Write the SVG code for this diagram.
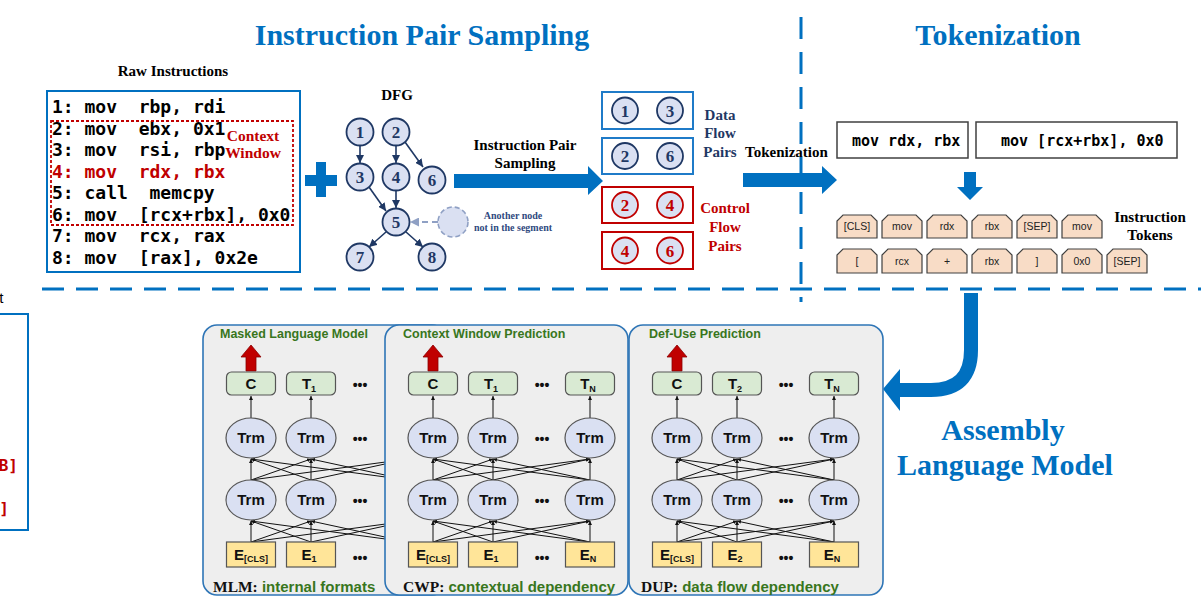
<svg xmlns="http://www.w3.org/2000/svg" width="1201" height="601" viewBox="0 0 1201 601">
<style>
.ttl{font-family:"Liberation Serif","Times New Roman",serif;font-weight:bold;fill:#0070C0;text-anchor:middle}
.sb{font-family:"Liberation Serif","Times New Roman",serif;font-weight:bold}
.code{font-family:"DejaVu Sans Mono","Liberation Mono",monospace;font-weight:bold;font-size:18px;fill:#000}
.tok{font-family:"DejaVu Sans Mono","Liberation Mono",monospace;font-weight:bold;font-size:15px;fill:#000}
.dn{fill:#DAE0F2;stroke:#1F3864;stroke-width:1.8}
.dnt{font-family:"Liberation Serif","Times New Roman",serif;font-weight:bold;font-size:17px;fill:#1F3864;text-anchor:middle}
.rn{fill:#DAE0F2;stroke:#C00000;stroke-width:1.8}
.rnt{font-family:"Liberation Serif","Times New Roman",serif;font-weight:bold;font-size:17px;fill:#C00000;text-anchor:middle}
.de{stroke:#1F3864;stroke-width:1.6;fill:none;marker-end:url(#dh)}
.tk{fill:#F8DCC6;stroke:#404040;stroke-width:1.2}
.tkt{font-family:"Liberation Sans",Arial,sans-serif;font-size:10.5px;fill:#222;text-anchor:middle}
.panel{fill:#EEEEEE;stroke:#2E75B6;stroke-width:1.6}
.ptl{font-family:"Liberation Sans",Arial,sans-serif;font-weight:bold;font-size:12.5px;fill:#38761D}
.pbl{font-family:"Liberation Sans",Arial,sans-serif;font-weight:bold;font-size:15px;fill:#38761D}
.cb{fill:#D9EAD3;stroke:#555;stroke-width:1.2}
.eb{fill:#FFE599;stroke:#555;stroke-width:1.2}
.tr{fill:#DAE0F2;stroke:#555;stroke-width:1.2}
.nt{font-family:"Liberation Sans",Arial,sans-serif;font-weight:bold;font-size:15px;fill:#111;text-anchor:middle}
.dots{font-family:"Liberation Sans",Arial,sans-serif;font-weight:bold;font-size:14px;fill:#111;text-anchor:middle}
.ln{stroke:#111;stroke-width:1;marker-end:url(#ah)}
.ra{fill:#C00000;stroke:#8B0000;stroke-width:0.8}
.blue{fill:#0070C0}
</style>
<defs>
<marker id="ah" viewBox="0 0 6 6" refX="6" refY="3" markerWidth="4" markerHeight="4" markerUnits="userSpaceOnUse" orient="auto"><path d="M0,0 L6,3 L0,6 z" fill="#111"/></marker>
<marker id="dh" viewBox="0 0 8 8" refX="8" refY="4" markerWidth="8" markerHeight="8" markerUnits="userSpaceOnUse" orient="auto"><path d="M0,0 L8,4 L0,8 z" fill="#1F3864"/></marker>
<marker id="gh" viewBox="0 0 8 8" refX="8" refY="4" markerWidth="9" markerHeight="9" markerUnits="userSpaceOnUse" orient="auto"><path d="M0,0 L8,4 L0,8 z" fill="#8FA0C4"/></marker>
</defs>
<rect width="1201" height="601" fill="#fff"/>

<!-- section dividers -->
<g id="dividers" stroke="#0070C0" stroke-width="3" fill="none">
<line x1="42" y1="289" x2="1201" y2="289" stroke-dasharray="22 12"/>
<line x1="801" y1="17" x2="801" y2="302" stroke-dasharray="22 13"/>
</g>

<!-- titles -->
<text class="ttl" x="422" y="45" font-size="30">Instruction Pair Sampling</text>
<text class="ttl" x="998" y="45" font-size="30">Tokenization</text>
<text class="ttl" x="1003" y="440" font-size="30">Assembly</text>
<text class="ttl" x="1005" y="475" font-size="30">Language Model</text>

<!-- partial left element -->
<g id="left-partial">
<text x="3.5" y="303" font-family="Liberation Sans, Arial, sans-serif" font-size="15" text-anchor="end" fill="#000">t</text>
<path d="M-2 314 H28 V530 H-2" fill="none" stroke="#0070C0" stroke-width="2"/>
<text x="18" y="471" class="code" style="fill:#C00000;font-size:16px" text-anchor="end">B]</text>
<text x="9" y="514" class="code" style="fill:#C00000;font-size:16px" text-anchor="end">]</text>
</g>

<!-- raw instructions -->
<g id="raw-instructions">
<text class="sb" x="173" y="76" font-size="15" text-anchor="middle">Raw Instructions</text>
<rect x="47" y="91" width="253" height="181" fill="#fff" stroke="#0070C0" stroke-width="2"/>
<text class="code" x="52" y="113" xml:space="preserve">1: mov  rbp, rdi</text>
<text class="code" x="52" y="134.5" xml:space="preserve">2: mov  ebx, 0x1</text>
<text class="code" x="52" y="156" xml:space="preserve">3: mov  rsi, rbp</text>
<text class="code" x="52" y="177.5" xml:space="preserve" style="fill:#C00000">4: mov  rdx, rbx</text>
<text class="code" x="52" y="199" xml:space="preserve">5: call  memcpy</text>
<text class="code" x="52" y="220.5" xml:space="preserve">6: mov  [rcx+rbx], 0x0</text>
<text class="code" x="52" y="242" xml:space="preserve">7: mov  rcx, rax</text>
<text class="code" x="52" y="263.5" xml:space="preserve">8: mov  [rax], 0x2e</text>
<rect x="51" y="121" width="242" height="104" fill="none" stroke="#C00000" stroke-width="1.8" stroke-dasharray="3 2"/>
<text class="sb" x="253" y="141" font-size="15.5" fill="#C00000" text-anchor="middle">Context</text>
<text class="sb" x="253" y="158" font-size="15.5" fill="#C00000" text-anchor="middle">Window</text>
</g>

<!-- plus -->
<path id="plus" class="blue" d="M316 162 H326 V175 H337 V186 H326 V197 H316 V186 H305 V175 H316 Z"/>

<!-- DFG -->
<g id="dfg">
<text class="sb" x="397" y="100" font-size="15" text-anchor="middle">DFG</text>
<g class="connectors">
<line class="de" x1="360" y1="146" x2="360" y2="163"/>
<line class="de" x1="396" y1="146" x2="396" y2="163"/>
<line class="de" x1="405" y1="142" x2="423" y2="167"/>
<line class="de" x1="369" y1="187" x2="386" y2="211"/>
<line class="de" x1="396" y1="191" x2="396" y2="208"/>
<line class="de" x1="386" y1="232" x2="369" y2="247"/>
<line class="de" x1="406" y1="232" x2="423" y2="247"/>
<line x1="438" y1="222" x2="410" y2="222" stroke="#8FA0C4" stroke-width="1.8" stroke-dasharray="6 4" marker-end="url(#gh)"/>
</g>
<g id="n1"><circle class="dn" cx="360" cy="132" r="13.5"/><text class="dnt" x="360" y="138">1</text></g>
<g id="n2"><circle class="dn" cx="396" cy="132" r="13.5"/><text class="dnt" x="396" y="138">2</text></g>
<g id="n3"><circle class="dn" cx="360" cy="177" r="13.5"/><text class="dnt" x="360" y="183">3</text></g>
<g id="n4"><circle class="dn" cx="396" cy="177" r="13.5"/><text class="dnt" x="396" y="183">4</text></g>
<g id="n6"><circle class="dn" cx="432" cy="180" r="13.5"/><text class="dnt" x="432" y="186">6</text></g>
<g id="n5"><circle class="dn" cx="396" cy="222" r="13.5"/><text class="dnt" x="396" y="228">5</text></g>
<g id="n7"><circle class="dn" cx="360" cy="257" r="13.5"/><text class="dnt" x="360" y="263">7</text></g>
<g id="n8"><circle class="dn" cx="432" cy="257" r="13.5"/><text class="dnt" x="432" y="263">8</text></g>
<g id="nx"><circle cx="453" cy="222" r="15" fill="#DAE0F2" stroke="#8FA0C4" stroke-width="1.6" stroke-dasharray="5 3"/>
<text class="sb" x="513" y="219" font-size="10" fill="#2F4A80" text-anchor="middle">Another node</text>
<text class="sb" x="513" y="231" font-size="10" fill="#2F4A80" text-anchor="middle">not in the segment</text></g>
</g>

<!-- instruction pair sampling arrow -->
<g id="arrow-sampling">
<text class="sb" x="525" y="150" font-size="15" text-anchor="middle">Instruction Pair</text>
<text class="sb" x="525" y="168" font-size="15" text-anchor="middle">Sampling</text>
<path class="blue" d="M454 174 H588 V166 L603 181 L588 195 V188 H454 Z"/>
</g>

<!-- pairs -->
<g id="pairs">
<rect x="602" y="92" width="91" height="37" fill="#fff" stroke="#1F7BC8" stroke-width="2"/>
<rect x="602" y="138" width="91" height="36" fill="#fff" stroke="#1F7BC8" stroke-width="2"/>
<rect x="602" y="187" width="91" height="36" fill="#fff" stroke="#C00000" stroke-width="2"/>
<rect x="602" y="232" width="91" height="37" fill="#fff" stroke="#C00000" stroke-width="2"/>
<circle class="dn" cx="625" cy="110.5" r="13"/><text class="dnt" x="625" y="116.5">1</text>
<circle class="dn" cx="670" cy="110.5" r="13"/><text class="dnt" x="670" y="116.5">3</text>
<circle class="dn" cx="625" cy="156" r="13"/><text class="dnt" x="625" y="162">2</text>
<circle class="dn" cx="670" cy="156" r="13"/><text class="dnt" x="670" y="162">6</text>
<circle class="rn" cx="625" cy="205" r="13"/><text class="rnt" x="625" y="211">2</text>
<circle class="rn" cx="670" cy="205" r="13"/><text class="rnt" x="670" y="211">4</text>
<circle class="rn" cx="625" cy="250.5" r="13"/><text class="rnt" x="625" y="256.5">4</text>
<circle class="rn" cx="670" cy="250.5" r="13"/><text class="rnt" x="670" y="256.5">6</text>
<g class="sb" font-size="15" fill="#1F3864" text-anchor="middle">
<text x="720" y="120">Data</text><text x="720" y="138">Flow</text><text x="720" y="157">Pairs</text></g>
<g class="sb" font-size="15" fill="#C00000" text-anchor="middle">
<text x="725" y="213">Control</text><text x="725" y="232">Flow</text><text x="725" y="251">Pairs</text></g>
</g>

<!-- tokenization arrow -->
<g id="arrow-tokenization">
<text class="sb" x="745" y="157" font-size="15">Tokenization</text>
<path class="blue" d="M743 173 H822 V166 L837 180 L822 194 V187 H743 Z"/>
</g>

<!-- instructions -->
<g id="instr1"><rect x="837" y="122" width="131" height="36" fill="#fff" stroke="#404040" stroke-width="1.5"/><text class="tok" x="852" y="146">mov rdx, rbx</text></g>
<g id="instr2"><rect x="976" y="122" width="201" height="36" fill="#fff" stroke="#404040" stroke-width="1.5"/><text class="tok" x="1001" y="146">mov [rcx+rbx], 0x0</text></g>
<path id="arrow-down" class="blue" d="M964 172 H976 V187 H983 L970 200 L957 187 H964 Z"/>

<!-- tokens -->
<g id="tokens">
<g transform="translate(837,215)"><path class="tk" d="M0 23 V6 L6 0 H34 L40 6 V23 Z"/><text class="tkt" x="20" y="15">[CLS]</text></g>
<g transform="translate(882,215)"><path class="tk" d="M0 23 V6 L6 0 H34 L40 6 V23 Z"/><text class="tkt" x="20" y="15">mov</text></g>
<g transform="translate(927,215)"><path class="tk" d="M0 23 V6 L6 0 H34 L40 6 V23 Z"/><text class="tkt" x="20" y="15">rdx</text></g>
<g transform="translate(972,215)"><path class="tk" d="M0 23 V6 L6 0 H34 L40 6 V23 Z"/><text class="tkt" x="20" y="15">rbx</text></g>
<g transform="translate(1017,215)"><path class="tk" d="M0 23 V6 L6 0 H34 L40 6 V23 Z"/><text class="tkt" x="20" y="15">[SEP]</text></g>
<g transform="translate(1062,215)"><path class="tk" d="M0 23 V6 L6 0 H34 L40 6 V23 Z"/><text class="tkt" x="20" y="15">mov</text></g>
<g transform="translate(837,249)"><path class="tk" d="M0 24 V6 L6 0 H34 L40 6 V24 Z"/><text class="tkt" x="20" y="16">[</text></g>
<g transform="translate(882,249)"><path class="tk" d="M0 24 V6 L6 0 H34 L40 6 V24 Z"/><text class="tkt" x="20" y="16">rcx</text></g>
<g transform="translate(927,249)"><path class="tk" d="M0 24 V6 L6 0 H34 L40 6 V24 Z"/><text class="tkt" x="20" y="16">+</text></g>
<g transform="translate(972,249)"><path class="tk" d="M0 24 V6 L6 0 H34 L40 6 V24 Z"/><text class="tkt" x="20" y="16">rbx</text></g>
<g transform="translate(1017,249)"><path class="tk" d="M0 24 V6 L6 0 H34 L40 6 V24 Z"/><text class="tkt" x="20" y="16">]</text></g>
<g transform="translate(1062,249)"><path class="tk" d="M0 24 V6 L6 0 H34 L40 6 V24 Z"/><text class="tkt" x="20" y="16">0x0</text></g>
<g transform="translate(1107,249)"><path class="tk" d="M0 24 V6 L6 0 H34 L40 6 V24 Z"/><text class="tkt" x="20" y="16">[SEP]</text></g>
<text class="sb" x="1150" y="222" font-size="15" text-anchor="middle">Instruction</text>
<text class="sb" x="1150" y="240" font-size="15" text-anchor="middle">Tokens</text>
</g>

<!-- curved arrow to model -->
<g id="arrow-model">
<path d="M971 293 V350 Q971 390 931 390 H899" fill="none" stroke="#0070C0" stroke-width="14"/>
<path class="blue" d="M900 369 L883 389 L900 411 Z"/>
</g>

<!-- MLM panel -->
<g id="panel-mlm" transform="translate(203,0)">
<rect class="panel" x="0" y="325" width="243" height="270" rx="14"/>
<text class="ptl" x="17" y="338">Masked Language Model</text>
<g class="connectors">
<line class="ln" x1="48" y1="542" x2="48" y2="521"/><line class="ln" x1="48" y1="542" x2="108" y2="521"/><line class="ln" x1="48" y1="542" x2="205" y2="521"/>
<line class="ln" x1="108" y1="542" x2="48" y2="521"/><line class="ln" x1="108" y1="542" x2="108" y2="521"/><line class="ln" x1="108" y1="542" x2="205" y2="521"/>
<line class="ln" x1="205" y1="542" x2="48" y2="521"/><line class="ln" x1="205" y1="542" x2="108" y2="521"/>
<line class="ln" x1="48" y1="480" x2="48" y2="459"/><line class="ln" x1="48" y1="480" x2="108" y2="459"/><line class="ln" x1="48" y1="480" x2="205" y2="459"/>
<line class="ln" x1="108" y1="480" x2="48" y2="459"/><line class="ln" x1="108" y1="480" x2="108" y2="459"/><line class="ln" x1="108" y1="480" x2="205" y2="459"/>
<line class="ln" x1="205" y1="480" x2="48" y2="459"/><line class="ln" x1="205" y1="480" x2="108" y2="459"/>
<line class="ln" x1="48" y1="418" x2="48" y2="396"/><line class="ln" x1="108" y1="418" x2="108" y2="396"/>
</g>
<path class="ra" d="M48 345 L58 357 H53 V371 H43 V357 H38 Z"/>
<rect class="cb" x="23.5" y="372" width="49" height="23" rx="5"/><text class="nt" x="48" y="389">C</text>
<rect class="cb" x="83.5" y="372" width="49" height="23" rx="5"/><text class="nt" x="106" y="389">T<tspan font-size="9" dy="3">1</tspan></text>
<text class="dots" x="157" y="390">•••</text>
<ellipse class="tr" cx="48" cy="438" rx="25" ry="20"/><text class="nt" x="48" y="443">Trm</text>
<ellipse class="tr" cx="108" cy="438" rx="25" ry="20"/><text class="nt" x="108" y="443">Trm</text>
<text class="dots" x="157" y="444">•••</text>
<ellipse class="tr" cx="48" cy="500" rx="25" ry="20"/><text class="nt" x="48" y="505">Trm</text>
<ellipse class="tr" cx="108" cy="500" rx="25" ry="20"/><text class="nt" x="108" y="505">Trm</text>
<text class="dots" x="157" y="506">•••</text>
<rect class="eb" x="23.5" y="542" width="49" height="25"/><text class="nt" x="48" y="560">E<tspan font-size="9" dy="2">[CLS]</tspan></text>
<rect class="eb" x="83.5" y="542" width="49" height="25"/><text class="nt" x="106" y="560">E<tspan font-size="9" dy="2">1</tspan></text>
<text class="dots" x="157" y="563">•••</text>
<text x="10" y="592"><tspan class="sb" font-size="15.5" fill="#111">MLM:</tspan><tspan class="pbl"> internal formats</tspan></text>
</g>

<!-- CWP panel -->
<g id="panel-cwp" transform="translate(385,0)">
<rect class="panel" x="0" y="325" width="243" height="270" rx="14"/>
<text class="ptl" x="18" y="338">Context Window Prediction</text>
<g class="connectors">
<line class="ln" x1="48" y1="542" x2="48" y2="521"/><line class="ln" x1="48" y1="542" x2="108" y2="521"/><line class="ln" x1="48" y1="542" x2="205" y2="521"/>
<line class="ln" x1="108" y1="542" x2="48" y2="521"/><line class="ln" x1="108" y1="542" x2="108" y2="521"/><line class="ln" x1="108" y1="542" x2="205" y2="521"/>
<line class="ln" x1="205" y1="542" x2="48" y2="521"/><line class="ln" x1="205" y1="542" x2="108" y2="521"/><line class="ln" x1="205" y1="542" x2="205" y2="521"/>
<line class="ln" x1="48" y1="480" x2="48" y2="459"/><line class="ln" x1="48" y1="480" x2="108" y2="459"/><line class="ln" x1="48" y1="480" x2="205" y2="459"/>
<line class="ln" x1="108" y1="480" x2="48" y2="459"/><line class="ln" x1="108" y1="480" x2="108" y2="459"/><line class="ln" x1="108" y1="480" x2="205" y2="459"/>
<line class="ln" x1="205" y1="480" x2="48" y2="459"/><line class="ln" x1="205" y1="480" x2="108" y2="459"/><line class="ln" x1="205" y1="480" x2="205" y2="459"/>
<line class="ln" x1="48" y1="418" x2="48" y2="396"/><line class="ln" x1="108" y1="418" x2="108" y2="396"/><line class="ln" x1="205" y1="418" x2="205" y2="396"/>
</g>
<path class="ra" d="M48 345 L58 357 H53 V371 H43 V357 H38 Z"/>
<rect class="cb" x="23.5" y="372" width="49" height="23" rx="5"/><text class="nt" x="48" y="389">C</text>
<rect class="cb" x="83.5" y="372" width="49" height="23" rx="5"/><text class="nt" x="106" y="389">T<tspan font-size="9" dy="3">1</tspan></text>
<rect class="cb" x="180.5" y="372" width="49" height="23" rx="5"/><text class="nt" x="203" y="389">T<tspan font-size="9" dy="3">N</tspan></text>
<text class="dots" x="157" y="390">•••</text>
<ellipse class="tr" cx="48" cy="438" rx="25" ry="20"/><text class="nt" x="48" y="443">Trm</text>
<ellipse class="tr" cx="108" cy="438" rx="25" ry="20"/><text class="nt" x="108" y="443">Trm</text>
<ellipse class="tr" cx="205" cy="438" rx="25" ry="20"/><text class="nt" x="205" y="443">Trm</text>
<text class="dots" x="157" y="444">•••</text>
<ellipse class="tr" cx="48" cy="500" rx="25" ry="20"/><text class="nt" x="48" y="505">Trm</text>
<ellipse class="tr" cx="108" cy="500" rx="25" ry="20"/><text class="nt" x="108" y="505">Trm</text>
<ellipse class="tr" cx="205" cy="500" rx="25" ry="20"/><text class="nt" x="205" y="505">Trm</text>
<text class="dots" x="157" y="506">•••</text>
<rect class="eb" x="23.5" y="542" width="49" height="25"/><text class="nt" x="48" y="560">E<tspan font-size="9" dy="2">[CLS]</tspan></text>
<rect class="eb" x="83.5" y="542" width="49" height="25"/><text class="nt" x="106" y="560">E<tspan font-size="9" dy="2">1</tspan></text>
<rect class="eb" x="180.5" y="542" width="49" height="25"/><text class="nt" x="203" y="560">E<tspan font-size="9" dy="2">N</tspan></text>
<text class="dots" x="157" y="563">•••</text>
<text x="18" y="592"><tspan class="sb" font-size="15.5" fill="#111">CWP:</tspan><tspan class="pbl"> contextual dependency</tspan></text>
</g>

<!-- DUP panel -->
<g id="panel-dup" transform="translate(629,0)">
<rect class="panel" x="0" y="325" width="254" height="270" rx="14"/>
<text class="ptl" x="20" y="338">Def-Use Prediction</text>
<g class="connectors">
<line class="ln" x1="48" y1="542" x2="48" y2="521"/><line class="ln" x1="48" y1="542" x2="108" y2="521"/><line class="ln" x1="48" y1="542" x2="205" y2="521"/>
<line class="ln" x1="108" y1="542" x2="48" y2="521"/><line class="ln" x1="108" y1="542" x2="108" y2="521"/><line class="ln" x1="108" y1="542" x2="205" y2="521"/>
<line class="ln" x1="205" y1="542" x2="48" y2="521"/><line class="ln" x1="205" y1="542" x2="108" y2="521"/><line class="ln" x1="205" y1="542" x2="205" y2="521"/>
<line class="ln" x1="48" y1="480" x2="48" y2="459"/><line class="ln" x1="48" y1="480" x2="108" y2="459"/><line class="ln" x1="48" y1="480" x2="205" y2="459"/>
<line class="ln" x1="108" y1="480" x2="48" y2="459"/><line class="ln" x1="108" y1="480" x2="108" y2="459"/><line class="ln" x1="108" y1="480" x2="205" y2="459"/>
<line class="ln" x1="205" y1="480" x2="48" y2="459"/><line class="ln" x1="205" y1="480" x2="108" y2="459"/><line class="ln" x1="205" y1="480" x2="205" y2="459"/>
<line class="ln" x1="48" y1="418" x2="48" y2="396"/><line class="ln" x1="108" y1="418" x2="108" y2="396"/><line class="ln" x1="205" y1="418" x2="205" y2="396"/>
</g>
<path class="ra" d="M48 345 L58 357 H53 V371 H43 V357 H38 Z"/>
<rect class="cb" x="23.5" y="372" width="49" height="23" rx="5"/><text class="nt" x="48" y="389">C</text>
<rect class="cb" x="83.5" y="372" width="49" height="23" rx="5"/><text class="nt" x="106" y="389">T<tspan font-size="9" dy="3">2</tspan></text>
<rect class="cb" x="180.5" y="372" width="49" height="23" rx="5"/><text class="nt" x="203" y="389">T<tspan font-size="9" dy="3">N</tspan></text>
<text class="dots" x="157" y="390">•••</text>
<ellipse class="tr" cx="48" cy="438" rx="25" ry="20"/><text class="nt" x="48" y="443">Trm</text>
<ellipse class="tr" cx="108" cy="438" rx="25" ry="20"/><text class="nt" x="108" y="443">Trm</text>
<ellipse class="tr" cx="205" cy="438" rx="25" ry="20"/><text class="nt" x="205" y="443">Trm</text>
<text class="dots" x="157" y="444">•••</text>
<ellipse class="tr" cx="48" cy="500" rx="25" ry="20"/><text class="nt" x="48" y="505">Trm</text>
<ellipse class="tr" cx="108" cy="500" rx="25" ry="20"/><text class="nt" x="108" y="505">Trm</text>
<ellipse class="tr" cx="205" cy="500" rx="25" ry="20"/><text class="nt" x="205" y="505">Trm</text>
<text class="dots" x="157" y="506">•••</text>
<rect class="eb" x="23.5" y="542" width="49" height="25"/><text class="nt" x="48" y="560">E<tspan font-size="9" dy="2">[CLS]</tspan></text>
<rect class="eb" x="83.5" y="542" width="49" height="25"/><text class="nt" x="106" y="560">E<tspan font-size="9" dy="2">2</tspan></text>
<rect class="eb" x="180.5" y="542" width="49" height="25"/><text class="nt" x="203" y="560">E<tspan font-size="9" dy="2">N</tspan></text>
<text class="dots" x="157" y="563">•••</text>
<text x="12" y="592"><tspan class="sb" font-size="15.5" fill="#111">DUP:</tspan><tspan class="pbl"> data flow dependency</tspan></text>
</g>
</svg>
